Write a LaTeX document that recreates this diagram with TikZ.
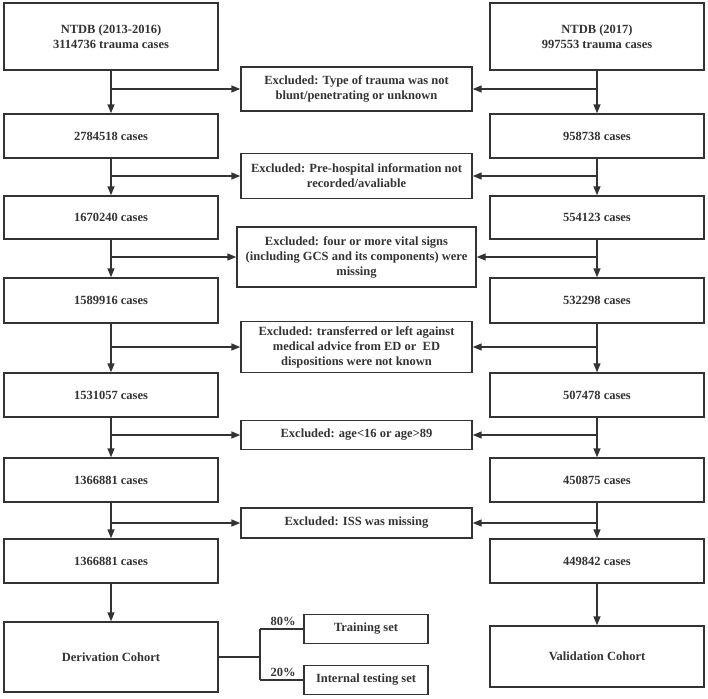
\documentclass[tikz,border=0pt]{standalone}
\usepackage{fontspec}
\setmainfont{Liberation Serif}
\usetikzlibrary{arrows.meta}
\definecolor{ink}{HTML}{333333}
\begin{document}
\begin{tikzpicture}[x=1pt,y=-1pt,
  box/.style={draw=ink,line width=1.4pt,fill=white,text=ink,align=center,
    inner sep=2pt,font=\bfseries\fontsize{12.5}{15}\selectfont},
  lbox/.style={box,minimum width=214pt},
  ebox/.style={box,minimum width=231pt},
  conn/.style={draw=ink,line width=1.4pt},
  arr/.style={conn,-{Triangle[length=9pt,width=7pt]}},
  lab/.style={text=ink,font=\bfseries\fontsize{12.5}{15}\selectfont}]
\useasboundingbox (0,0) rectangle (708,698);
% left column
\node[lbox,minimum height=67pt] (L1) at (111,36.5) {NTDB (2013-2016)\\3114736 trauma cases};
\node[lbox,minimum height=44pt] (L2) at (111,136) {2784518 cases};
\node[lbox,minimum height=43pt] (L3) at (111,217.5) {1670240 cases};
\node[lbox,minimum height=45pt] (L4) at (111,300.5) {1589916 cases};
\node[lbox,minimum height=44pt] (L5) at (111,395) {1531057 cases};
\node[lbox,minimum height=44pt] (L6) at (111,480) {1366881 cases};
\node[lbox,minimum height=44pt] (L7) at (111,561) {1366881 cases};
\node[lbox,minimum height=70pt] (D) at (111,657) {Derivation Cohort};
% right column
\node[lbox,minimum height=67pt] (R1) at (597,36.5) {NTDB (2017)\\997553 trauma cases};
\node[lbox,minimum height=44pt] (R2) at (597,136) {958738 cases};
\node[lbox,minimum height=43pt] (R3) at (597,217.5) {554123 cases};
\node[lbox,minimum height=45pt] (R4) at (597,300.5) {532298 cases};
\node[lbox,minimum height=44pt] (R5) at (597,395) {507478 cases};
\node[lbox,minimum height=44pt] (R6) at (597,480) {450875 cases};
\node[lbox,minimum height=44pt] (R7) at (597,561) {449842 cases};
\node[lbox,minimum height=61pt] (V) at (597,656.5) {Validation Cohort};
% exclusion boxes
\node[ebox,minimum height=44pt] (E1) at (356.5,89) {Excluded: Type of trauma was not\\blunt/penetrating or unknown};
\node[ebox,minimum height=45pt] (E2) at (356.5,176) {Excluded: Pre-hospital information not\\recorded/avaliable};
\node[ebox,minimum width=239pt,minimum height=60pt] (E3) at (356.5,257) {Excluded: four or more vital signs\\(including GCS and its components) were\\missing};
\node[ebox,minimum height=51pt] (E4) at (356.5,347) {Excluded: transferred or left against\\medical advice from ED or\ \ ED\\dispositions were not known};
\node[ebox,minimum height=29pt] (E5) at (356.5,435) {Excluded: age<16 or age>89};
\node[ebox,minimum height=30pt] (E6) at (356.5,523) {Excluded: ISS was missing};
% split boxes
\node[box,minimum width=124pt,minimum height=29pt] (T) at (366,629) {Training set};
\node[box,minimum width=124pt,minimum height=29pt] (I) at (366,680) {Internal testing set};
% vertical arrows
\foreach \a/\b in {L1/L2,L2/L3,L3/L4,L4/L5,L5/L6,L6/L7,L7/D,R1/R2,R2/R3,R3/R4,R4/R5,R5/R6,R6/R7,R7/V}
  \draw[arr] (\a.south) -- (\b.north);
% branches to exclusion boxes
\foreach \a/\e in {L1/E1,L2/E2,L3/E3,L4/E4,L5/E5,L6/E6}
  \draw[arr] (\a.south |- \e.west) -- (\e.west);
\foreach \a/\e in {R1/E1,R2/E2,R3/E3,R4/E4,R5/E5,R6/E6}
  \draw[arr] (\a.south |- \e.east) -- (\e.east);
% split
\coordinate (S) at (260,657);
\draw[conn] (D.east) -- (S);
\draw[conn] (S |- T.west) -- (S |- I.west);
\draw[conn] (S |- T.west) -- (T.west);
\draw[conn] (S |- I.west) -- (I.west);
\node[lab] (P80) at (283,621) {80\%};
\node[lab] (P20) at (283,672) {20\%};
\end{tikzpicture}
\end{document}
